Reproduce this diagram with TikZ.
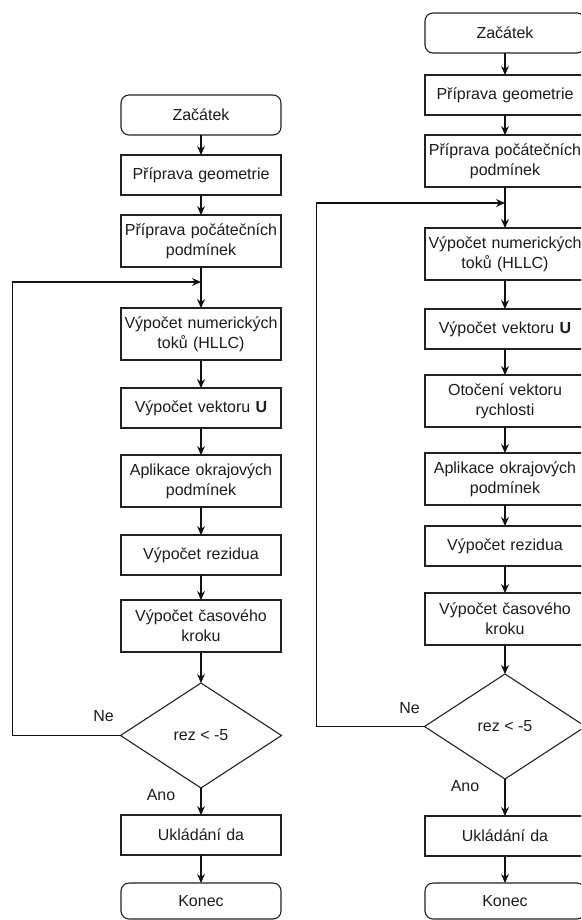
\documentclass[tikz,border=0pt]{standalone}
\usepackage{fontspec}
\setmainfont{Liberation Sans}
\usetikzlibrary{arrows.meta,positioning,shapes.geometric}
\definecolor{linkgray}{HTML}{111111}
\definecolor{boxline}{HTML}{222222}
\definecolor{labeltext}{HTML}{1C1C1C}

\begin{document}
\begin{tikzpicture}[
  x=1pt, y=1pt,
  >={Stealth[length=9pt,width=8pt,inset=3pt]},
  every node/.style={font=\fontsize{16}{20}\selectfont, text=labeltext},
  krok/.style={draw=boxline, line width=1.1pt, fill=white, text width=156pt,
    align=center, inner sep=2pt, outer sep=0pt, minimum height=40pt},
  krokdva/.style={krok, minimum height=52pt},
  mez/.style={krok, rounded corners=8pt},
  podm/.style={diamond, draw=boxline, line width=1.1pt, fill=white,
    minimum width=161pt, minimum height=105pt, inner sep=0pt, outer sep=0pt},
  tok/.style={linkgray, line width=1.1pt, ->},
  popis/.style={font=\fontsize{16}{18}\selectfont}
]
  \useasboundingbox (0,0) rectangle (581,-920);
  \clip (0,0) rectangle (581,-920);

  % left chart
  \node[mez] (zac1) at (201,-115) {Začátek};
  \node[krok, below=20pt of zac1] (geo1) {Příprava geometrie};
  \node[krokdva, below=20pt of geo1] (poc1) {Příprava počátečních\\podmínek};
  \node[krokdva, below=41pt of poc1] (num1) {Výpočet numerických\\toků (HLLC)};
  \node[krok, below=28pt of num1] (vek1) {Výpočet vektoru \textbf{U}};
  \node[krokdva, below=27pt of vek1] (okr1) {Aplikace okrajových\\podmínek};
  \node[krok, below=28pt of okr1] (rez1) {Výpočet rezidua};
  \node[krokdva, below=25pt of rez1] (cas1) {Výpočet časového\\kroku};
  \node[podm, below=31pt of cas1] (dia1) {rez < -5};
  \node[krok, below=27pt of dia1] (ulo1) {Ukládání da};
  \node[mez, minimum height=36pt, below=28pt of ulo1] (kon1) {Konec};

  % right chart
  \node[mez] (zac2) at (505,-33) {Začátek};
  \node[krok, below=22pt of zac2] (geo2) {Příprava geometrie};
  \node[krokdva, below=20pt of geo2] (poc2) {Příprava počátečních\\podmínek};
  \node[krokdva, below=41pt of poc2] (num2) {Výpočet numerických\\toků (HLLC)};
  \node[krok, below=29pt of num2] (vek2) {Výpočet vektoru \textbf{U}};
  \node[krokdva, below=26pt of vek2] (rot2) {Otočení vektoru\\rychlosti};
  \node[krokdva, below=26pt of rot2] (okr2) {Aplikace okrajových\\podmínek};
  \node[krok, below=21pt of okr2] (rez2) {Výpočet rezidua};
  \node[krokdva, below=27pt of rez2] (cas2) {Výpočet časového\\kroku};
  \node[podm, below=29pt of cas2] (dia2) {rez < -5};
  \node[krok, below=37pt of dia2] (ulo2) {Ukládání da};
  \node[mez, minimum height=36pt, below=27pt of ulo2] (kon2) {Konec};

  \foreach \a/\b in {zac1/geo1, geo1/poc1, poc1/num1, num1/vek1, vek1/okr1,
    okr1/rez1, rez1/cas1, cas1/dia1, dia1/ulo1, ulo1/kon1,
    zac2/geo2, geo2/poc2, poc2/num2, num2/vek2, vek2/rot2, rot2/okr2,
    okr2/rez2, rez2/cas2, cas2/dia2, dia2/ulo2, ulo2/kon2}
    \draw[tok] (\a) -- (\b);

  % loops back
  \coordinate (lp1) at ([yshift=-15pt]poc1.south);
  \coordinate (ret1) at ([xshift=-108pt]dia1.west);
  \draw[tok] (dia1.west) -- (ret1) |- (lp1);
  \coordinate (lp2) at ([yshift=-16pt]poc2.south);
  \coordinate (ret2) at ([xshift=-108pt]dia2.west);
  \draw[tok] (dia2.west) -- (ret2) |- (lp2);

  \node[popis] (ne1) at ([xshift=-17pt,yshift=19pt]dia1.west) {Ne};
  \node[popis] (ano1) at ([xshift=-40pt,yshift=-7pt]dia1.south) {Ano};
  \node[popis] (ne2) at ([xshift=-15pt,yshift=18pt]dia2.west) {Ne};
  \node[popis] (ano2) at ([xshift=-40pt,yshift=-7pt]dia2.south) {Ano};
\end{tikzpicture}
\end{document}
